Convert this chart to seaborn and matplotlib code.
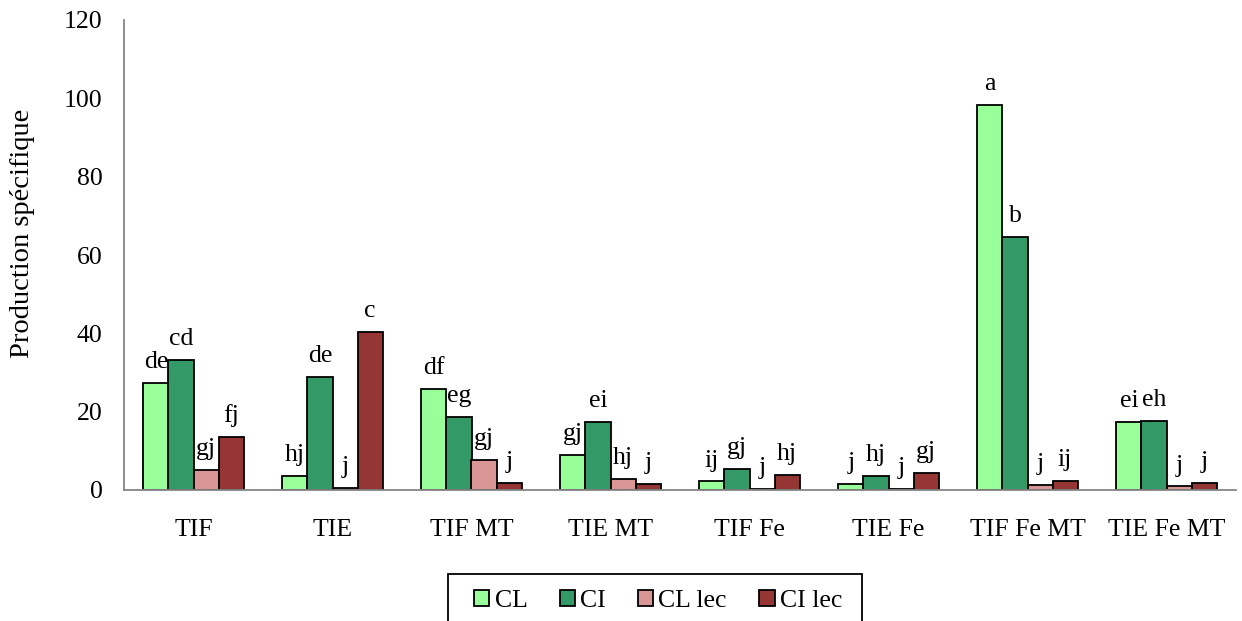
import numpy as np
import pandas as pd
import matplotlib
matplotlib.use("Agg")
import matplotlib.pyplot as plt
import seaborn as sns

# ---------------- DATA ----------------

treatments = ["TIF", "TIE", "TIF MT", "TIE MT", "TIF Fe", "TIE Fe", "TIF Fe MT", "TIE Fe MT"]
series = ["CL", "CI", "CL lec", "CI lec"]

cl = [27.3, 3.6, 25.8, 8.9, 2.2, 1.6, 98.4, 17.4]
ci = [33.2, 28.8, 18.6, 17.4, 5.4, 3.6, 64.6, 17.7]
cl_lec = [5.1, 0.5, 7.7, 2.9, 0.3, 0.2, 1.3, 0.9]
ci_lec = [13.5, 40.3, 1.8, 1.5, 3.8, 4.3, 2.4, 1.9]

letters_cl = ["de", "hj", "df", "gj", "ij", "j", "a", "ei"]
letters_ci = ["cd", "de", "eg", "ei", "gj", "hj", "b", "eh"]
letters_cl_lec = ["gj", "j", "gj", "hj", "j", "j", "j", "j"]
letters_ci_lec = ["fj", "c", "j", "j", "hj", "gj", "ij", "j"]

colors = ["#99FF99", "#339966", "#DA9694", "#963634"]

# ---------------- FRAME ----------------

values = {"CL": cl, "CI": ci, "CL lec": cl_lec, "CI lec": ci_lec}
letters = {"CL": letters_cl, "CI": letters_ci, "CL lec": letters_cl_lec, "CI lec": letters_ci_lec}

df = pd.DataFrame([
    {"traitement": t, "serie": s, "valeur": values[s][i]}
    for s in series for i, t in enumerate(treatments)
])

# ---------------- PLOT ----------------

sns.set_style("white")
plt.rcParams["font.family"] = ["Liberation Serif", "DejaVu Serif"]
plt.rcParams["text.color"] = "black"
plt.rcParams["axes.labelcolor"] = "black"
plt.rcParams["xtick.labelcolor"] = "black"
plt.rcParams["ytick.labelcolor"] = "black"
FS = 18.5

fig = plt.figure(figsize=(12.42, 6.21), dpi=100)
ax = fig.add_axes([124 / 1242, 1 - 490 / 621, 1112 / 1242, 470 / 621])

sns.barplot(data=df, x="traitement", y="valeur", hue="serie", order=treatments,
            hue_order=series, palette=colors, width=0.72, gap=0,
            edgecolor="black", linewidth=1.3, saturation=1, ax=ax)

for container, s in zip(ax.containers, series):
    ax.bar_label(container, labels=letters[s], padding=7, fontsize=FS, color="black")

ax.set_ylim(0, 120)
ax.set_yticks(range(0, 121, 20))
ax.set_xlim(-0.5, len(treatments) - 0.5)
ax.set_ylabel("Production spécifique", fontsize=20.5)
ax.yaxis.set_label_coords(-0.08, 0.547)
ax.set_xlabel("")

for side in ["top", "right"]:
    ax.spines[side].set_visible(False)
for side in ["left", "bottom"]:
    ax.spines[side].set_color("#868686")
    ax.spines[side].set_linewidth(1.3)

ax.set_xticks(np.arange(-0.5, len(treatments), 1), minor=True)
ax.tick_params(axis="x", which="major", length=0, pad=21, labelsize=FS)
ax.tick_params(axis="x", which="minor", length=6, width=1.3, color="#868686", direction="out")
ax.tick_params(axis="y", length=6.5, width=1.3, color="#868686", direction="out", labelsize=FS, pad=9)

# legend: bottom, cut by the figure edge like the original
ax.get_legend().remove()
handles = [plt.Rectangle((0, 0), 1, 1, facecolor=c, edgecolor="black", linewidth=1.3) for c in colors]
fig.legend(handles, series, loc="upper center", bbox_to_anchor=(658 / 1242, 1 - 582 / 621),
           ncol=4, frameon=False, fontsize=FS,
           handlelength=0.6, handleheight=0.6, handletextpad=0.2, columnspacing=1.25,
           borderpad=0.3, borderaxespad=0)
fig.patches.append(plt.Rectangle((448 / 1242, -0.02), (862 - 448) / 1242, 0.02 + 1 - 574 / 621,
                                 transform=fig.transFigure, fill=False, edgecolor="black",
                                 linewidth=1.3))

fig.savefig("out.png", dpi=100)
plt.close(fig)
